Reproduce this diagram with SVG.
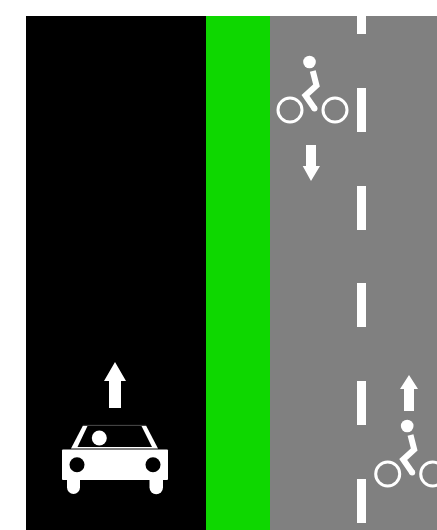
<svg xmlns="http://www.w3.org/2000/svg" width="437" height="530" viewBox="0 0 437 530">
<style>
.w{fill:#fff}
.wheel{fill:none;stroke:#fff;stroke-width:3}
.frame{fill:none;stroke:#fff;stroke-width:6;stroke-linejoin:miter}
</style>
<defs>
<g id="bike">
<circle class="w" cx="309.500" cy="62" r="6.300"/>
<circle class="wheel" cx="290" cy="110" r="12"/>
<circle class="wheel" cx="335" cy="110" r="12"/>
<path class="frame" d="M312.800 71L316.500 85.500L305.500 95.500L314.500 108.500"/>
<circle class="w" cx="314.500" cy="108.500" r="3"/>
</g>
</defs>
<rect width="437" height="530" fill="#fff"/>
<rect x="26" y="16" width="180" height="514" fill="#000"/>
<rect x="206" y="16" width="64" height="514" fill="#0ed700"/>
<rect x="270" y="16" width="167" height="514" fill="#808080"/>
<g id="dashes" class="w">
<rect x="357" y="16" width="9" height="18"/>
<rect x="357" y="88" width="9" height="44"/>
<rect x="357" y="186" width="9" height="44"/>
<rect x="357" y="283" width="9" height="44"/>
<rect x="357" y="381" width="9" height="44"/>
<rect x="357" y="479" width="9" height="44"/>
</g>
<g id="car-arrow"><polygon class="w" points="115,362 126,381 121,381 121,408 109,408 109,381 104,381"/></g>
<g id="car">
<rect class="w" x="62" y="449.500" width="106" height="30.500" rx="1"/>
<path class="w" d="M67 478H80V487.500A6.500 6.500 0 0 1 67 487.500Z"/>
<path class="w" d="M149.500 478H163V487.500A6.750 6.750 0 0 1 149.500 487.500Z"/>
<polygon class="w" points="83,425.500 146,425.500 158,448.500 71,448.500"/>
<polygon fill="#000" points="87.500,426 141.500,426 152,447 77.500,447"/>
<line x1="83" y1="425.300" x2="146" y2="425.300" stroke="#333" stroke-width="1"/>
<circle class="w" cx="99.300" cy="438" r="7.500"/>
<circle cx="77" cy="464.700" r="7.500" fill="#000"/>
<circle cx="153" cy="464.700" r="7.500" fill="#000"/>
</g>
<g id="bike-top"><use href="#bike"/></g>
<g id="arrow-down"><polygon class="w" points="306,145 316,145 316,166 320,166 311,181 302.700,166 306,166"/></g>
<g id="arrow-up"><polygon class="w" points="409,375 418,389 414,389 414,411 404,411 404,389 400,389"/></g>
<g id="bike-bottom"><use href="#bike" transform="translate(97.700 364)"/></g>
</svg>
